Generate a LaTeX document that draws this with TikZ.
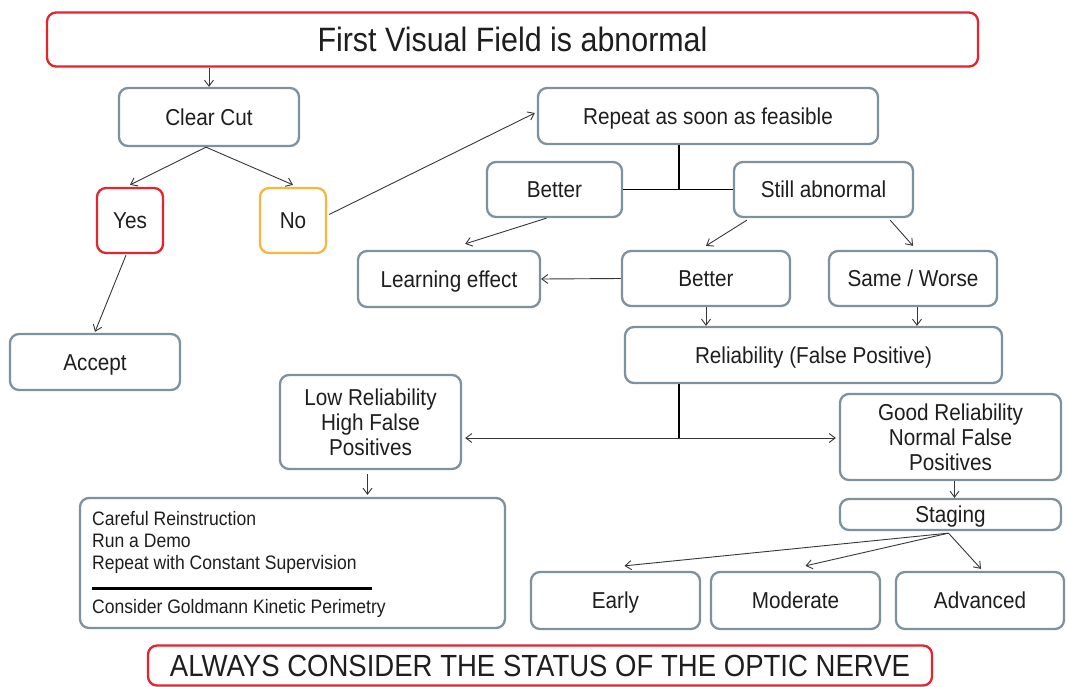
\documentclass[tikz,border=0pt]{standalone}
\usepackage{fontspec}
\setmainfont{Liberation Sans}[FakeStretch=0.9]
\usetikzlibrary{arrows.meta}
\definecolor{boxgray}{RGB}{128,145,158}
\definecolor{myred}{RGB}{228,36,46}
\definecolor{myorange}{RGB}{246,182,64}
\definecolor{arrgray}{RGB}{55,55,55}
\definecolor{txt}{RGB}{30,30,30}
\tikzset{
  box/.style={draw=boxgray, line width=2.3pt, rounded corners=9pt, fill=white, align=center,
    inner sep=0pt, text=txt, font=\fontsize{23}{25}\selectfont},
  one/.style={text height=16.5pt, text depth=0pt},
  redbox/.style={box, draw=myred},
  orangebox/.style={box, draw=myorange},
  arr/.style={draw=arrgray, line width=0.9pt, -{Straight Barb[length=6pt,width=9pt]}},
  darr/.style={draw=arrgray, line width=0.9pt, {Straight Barb[length=6pt,width=9pt]}-{Straight Barb[length=6pt,width=9pt]}},
  plain/.style={draw=black, line width=1.4pt},
  small/.style={inner sep=0pt, text=txt, align=left, anchor=west, font=\fontsize{19.5}{22}\selectfont},
}
\begin{document}
\begin{tikzpicture}[x=1pt,y=-1pt]
\useasboundingbox[fill=white] (0,0) rectangle (1068,686);

% nodes
\node[redbox, text height=24.2pt, text depth=0pt, minimum width=931pt, minimum height=54pt, font=\fontsize{33.8}{36}\selectfont] (t) at (512.5,39.5) {First Visual Field is abnormal};
\node[box, one, minimum width=180pt, minimum height=58pt] (cc) at (209,117) {Clear Cut};
\node[redbox, one, minimum width=66pt, minimum height=65pt] (yes) at (130,220.5) {Yes};
\node[orangebox, one, minimum width=66pt, minimum height=65pt] (no) at (293,220.5) {No};
\node[box, one, minimum width=170pt, minimum height=56pt] (acc) at (95,362) {Accept};
\node[box, one, minimum width=340pt, minimum height=56pt] (rep) at (708,116) {Repeat as soon as feasible};
\node[box, one, minimum width=135pt, minimum height=55pt] (b1) at (554.5,189.5) {Better};
\node[box, one, minimum width=179pt, minimum height=55pt] (sa) at (823.5,189.5) {Still abnormal};
\node[box, one, minimum width=182pt, minimum height=56pt] (learn) at (449,279) {Learning effect};
\node[box, one, minimum width=168pt, minimum height=55pt] (b2) at (706,278.5) {Better};
\node[box, one, minimum width=168pt, minimum height=55pt] (sw) at (913,278.5) {Same / Worse};
\node[box, one, minimum width=377pt, minimum height=56pt] (rel) at (813.5,355) {Reliability (False Positive)};
\node[box, minimum width=181pt, minimum height=94pt] (low) at (370.5,422) {Low Reliability\\High False\\Positives};
\node[box, minimum width=221pt, minimum height=86pt] (good) at (950.5,437) {Good Reliability\\Normal False\\Positives};
\node[box, one, minimum width=221pt, minimum height=31pt] (stag) at (950.5,514.5) {Staging};
\node[box, minimum width=425pt, minimum height=130pt] (care) at (292.5,563) {};
\node[small] (ct1) at (92,542) {Careful Reinstruction\\Run a Demo\\Repeat with Constant Supervision};
\node[small] (ct2) at (92,608) {Consider Goldmann Kinetic Perimetry};
\node[box, one, minimum width=169pt, minimum height=57pt] (early) at (615.5,600.5) {Early};
\node[box, one, minimum width=169pt, minimum height=57pt] (mod) at (795.5,600.5) {Moderate};
\node[box, one, minimum width=168pt, minimum height=57pt] (adv) at (980,600.5) {Advanced};
\node[redbox, text height=21.9pt, text depth=0pt, minimum width=784pt, minimum height=40pt, font=\fontsize{30.6}{32}\selectfont] (bot) at (540,665.5) {ALWAYS CONSIDER THE STATUS OF THE OPTIC NERVE};

% separator rule in the careful box
\draw[line width=3pt, black] (92,588) -- (372,588);

% junction coordinates
\coordinate (j1) at (679,190);
\coordinate (j2) at (679,438);

% connectors
\draw[arr] (t.south -| cc.north) -- (cc.north);
\draw[arr] ([xshift=-3pt]cc.south) -- ([yshift=2pt]yes.north);
\draw[arr] ([xshift=-3pt]cc.south) -- ([yshift=2pt]no.north);
\draw[arr] ([xshift=-4pt,yshift=-1pt]yes.south) -- ([yshift=1pt]acc.north);
\draw[arr] ([xshift=2pt,yshift=6pt]no.east) -- ([xshift=-2pt,yshift=3pt]rep.west);
\draw[plain] (rep.south -| j1) -- (j1);
\draw[plain] (b1.east) -- (sa.west);
\draw[arr] ([xshift=-8pt]b1.south) -- ([xshift=-76pt,yshift=6pt]learn.north east);
\draw[arr] ([xshift=14pt,yshift=-2pt]sa.south west) -- ([yshift=4pt]b2.north);
\draw[arr] ([xshift=-24pt,yshift=-2pt]sa.south east) -- ([yshift=4pt]sw.north);
\draw[arr] (b2.west) -- (learn.east);
\draw[arr] (b2.south) -- (b2.south |- rel.north);
\draw[arr] ([xshift=4pt]sw.south) -- ([xshift=4pt]sw.south |- rel.north);
\draw[plain] (rel.south -| j2) -- (j2);
\draw[darr] ([xshift=3pt]low.east |- j2) -- ([xshift=-3pt]good.west |- j2);
\draw[arr] ([xshift=-3pt,yshift=-4pt]low.south) -- ([xshift=-3pt,yshift=2pt]low.south |- care.north);
\draw[arr] ([xshift=4pt]good.south) -- ([xshift=4pt]good.south |- stag.north);
\draw[arr] ([xshift=-2pt,yshift=-2pt]stag.south) -- ([xshift=9pt,yshift=5pt]early.north);
\draw[arr] ([xshift=-2pt,yshift=-2pt]stag.south) -- ([xshift=10pt,yshift=5pt]mod.north);
\draw[arr] ([xshift=-2pt,yshift=-2pt]stag.south) -- ([xshift=1pt,yshift=2pt]adv.north);
\end{tikzpicture}
\end{document}
